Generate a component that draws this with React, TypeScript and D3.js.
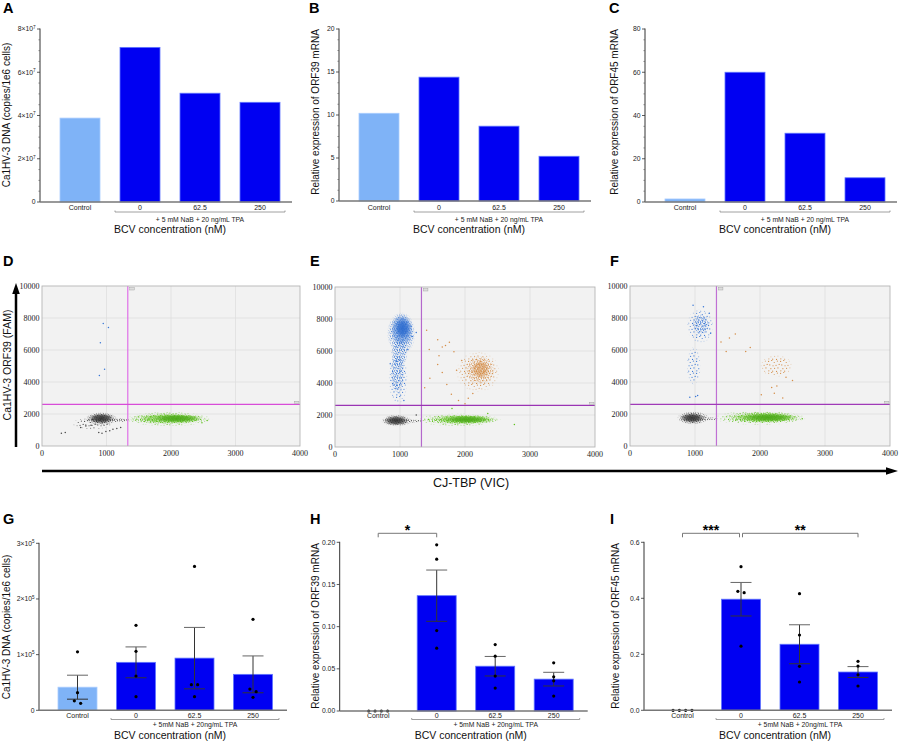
import * as d3 from "d3"

const sans = "'Liberation Sans', Arial, Helvetica, sans-serif"
const serif = "'Liberation Serif', 'Times New Roman', serif"

// treatment groups shared by every bar chart
const categories = ["Control", "0", "62.5", "250"]

// A–C: one pooled measurement per group
const dnaCopies = [3.88e7, 7.15e7, 5.03e7, 4.61e7]
const orf39Expression = [10.2, 14.4, 8.7, 5.2]
const orf45Expression = [1.4, 60.0, 31.8, 11.2]

const dnaTicks = [0, 2e7, 4e7, 6e7, 8e7]
const orf39Ticks = [0, 5, 10, 15, 20]
const orf45Ticks = [0, 20, 40, 60, 80]

// G–I: four replicates per group (bar = mean, whiskers = SEM)
const dnaReplicates = [
  [1.05e5, 0.316e5, 0.17e5, 0.125e5],
  [1.526e5, 1.06e5, 0.616e5, 0.244e5],
  [2.585e5, 0.46e5, 0.46e5, 0.244e5],
  [1.634e5, 0.382e5, 0.334e5, 0.233e5],
]
const orf39Replicates = [
  [0, 0, 0, 0],
  [0.197, 0.18, 0.0954, 0.0745],
  [0.0788, 0.065, 0.0414, 0.0272],
  [0.0571, 0.0405, 0.0358, 0.0177],
]
const orf45Replicates = [
  [0, 0, 0, 0],
  [0.513, 0.425, 0.42, 0.229],
  [0.4165, 0.269, 0.157, 0.101],
  [0.175, 0.158, 0.127, 0.0868],
]

const dnaRepTicks = [0, 1e5, 2e5, 3e5]
const orf39RepTicks = [0, 0.05, 0.1, 0.15, 0.2]
const orf45RepTicks = [0, 0.2, 0.4, 0.6]

const orf39Sig = [{ from: 0, to: 1, label: "*" }]
const orf45Sig = [
  { from: 0, to: 1, label: "***" },
  { from: 1, to: 3, label: "**" },
]

// D–F: ddPCR droplets, VIC (x) vs FAM (y)
const vicTicks = [0, 1000, 2000, 3000, 4000]
const famTicks = [0, 2000, 4000, 6000, 8000, 10000]
const thresholdVIC = 1330
const thresholdFAM = 2600

// droplet clouds: centre and half-extent in fluorescence units
const cloudsD = [
  { color: "gray", cx: 780, cy: 1400, rx: 320, ry: 380, level: "sparse" },
  { color: "gray", cx: 920, cy: 1700, rx: 250, ry: 420, level: "medium" },
  { color: "gray", cx: 920, cy: 1720, rx: 200, ry: 330, level: "core" },
  { color: "gray", cx: 1180, cy: 1620, rx: 180, ry: 130, level: "medium" },
  { color: "green", cx: 1960, cy: 1690, rx: 690, ry: 470, level: "sparse" },
  { color: "green", cx: 1950, cy: 1700, rx: 620, ry: 360, level: "medium" },
  { color: "green", cx: 2000, cy: 1710, rx: 500, ry: 300, level: "dense" },
  { color: "green", cx: 2080, cy: 1720, rx: 350, ry: 240, level: "core" },
]
const cloudsE = [
  { color: "blue", cx: 970, cy: 4300, rx: 150, ry: 1700, level: "sparse" },
  { color: "blue", cx: 960, cy: 4600, rx: 110, ry: 1300, level: "medium" },
  { color: "blue", cx: 990, cy: 5900, rx: 130, ry: 900, level: "medium" },
  { color: "blue", cx: 1020, cy: 7100, rx: 220, ry: 1350, level: "medium" },
  { color: "blue", cx: 1030, cy: 7300, rx: 170, ry: 1000, level: "dense" },
  { color: "blue", cx: 1040, cy: 7400, rx: 120, ry: 650, level: "core" },
  { color: "orange", cx: 2200, cy: 4700, rx: 340, ry: 1300, level: "sparse" },
  { color: "orange", cx: 2230, cy: 4800, rx: 230, ry: 900, level: "medium" },
  { color: "orange", cx: 2240, cy: 4850, rx: 130, ry: 550, level: "dense" },
  { color: "gray", cx: 950, cy: 1650, rx: 240, ry: 380, level: "medium" },
  { color: "gray", cx: 940, cy: 1650, rx: 190, ry: 300, level: "core" },
  { color: "gray", cx: 1190, cy: 1620, rx: 180, ry: 110, level: "medium" },
  { color: "green", cx: 1900, cy: 1700, rx: 660, ry: 420, level: "sparse" },
  { color: "green", cx: 1940, cy: 1710, rx: 590, ry: 320, level: "medium" },
  { color: "green", cx: 1990, cy: 1715, rx: 460, ry: 270, level: "dense" },
  { color: "green", cx: 2020, cy: 1720, rx: 340, ry: 220, level: "core" },
]
const cloudsF = [
  { color: "blue", cx: 1080, cy: 7500, rx: 210, ry: 1100, level: "sparse" },
  { color: "blue", cx: 1090, cy: 7600, rx: 130, ry: 650, level: "medium" },
  { color: "blue", cx: 980, cy: 5000, rx: 110, ry: 1200, level: "sparse" },
  { color: "orange", cx: 2250, cy: 5000, rx: 250, ry: 700, level: "sparse" },
  { color: "gray", cx: 970, cy: 1750, rx: 250, ry: 420, level: "medium" },
  { color: "gray", cx: 960, cy: 1750, rx: 190, ry: 320, level: "core" },
  { color: "gray", cx: 1210, cy: 1700, rx: 160, ry: 110, level: "medium" },
  { color: "green", cx: 2000, cy: 1760, rx: 720, ry: 470, level: "sparse" },
  { color: "green", cx: 2040, cy: 1770, rx: 630, ry: 360, level: "medium" },
  { color: "green", cx: 2080, cy: 1775, rx: 500, ry: 300, level: "dense" },
  { color: "green", cx: 2120, cy: 1780, rx: 390, ry: 250, level: "core" },
]

// isolated droplets outside the clouds: [VIC, FAM, colour]
const looseD = [
  [950, 7650, "blue"], [1030, 7400, "blue"], [905, 6450, "blue"], [970, 4800, "blue"], [890, 4400, "blue"],
  [300, 800, "gray"], [360, 840, "gray"], [600, 1150, "gray"], [680, 1250, "gray"], [760, 1300, "gray"],
  [880, 850, "gray"], [930, 800, "gray"], [990, 900, "gray"], [1050, 950, "gray"], [1100, 1050, "gray"],
  [1160, 1100, "gray"], [1220, 1150, "gray"], [2560, 1600, "green"], [2480, 1450, "green"],
]
const looseE = [
  [1410, 7300, "orange"], [1450, 6100, "orange"], [1580, 6700, "orange"], [1650, 6250, "orange"],
  [1700, 6350, "orange"], [1760, 6550, "orange"], [1830, 5950, "orange"], [1580, 5150, "orange"],
  [1650, 4650, "orange"], [1720, 3900, "orange"], [1790, 3300, "orange"], [1900, 2900, "orange"],
  [2000, 2700, "orange"], [2050, 3050, "orange"], [2120, 3350, "orange"], [1380, 3700, "orange"],
  [1460, 4300, "orange"], [1600, 5700, "orange"], [1870, 4800, "orange"], [1950, 5400, "orange"],
  [1250, 7150, "blue"], [1190, 6900, "blue"], [1170, 7550, "blue"], [850, 5200, "blue"],
  [1120, 6100, "blue"], [1060, 2900, "blue"], [2760, 1400, "green"], [2350, 2100, "green"],
  [1800, 2400, "green"], [1250, 2000, "gray"],
]
const looseF = [
  [1400, 6500, "orange"], [1530, 6750, "orange"], [1620, 7000, "orange"], [1480, 5900, "orange"],
  [1780, 5900, "orange"], [1850, 6150, "orange"], [2020, 3200, "orange"], [2180, 3650, "orange"],
  [2220, 3300, "orange"], [2350, 3000, "orange"], [2260, 3750, "orange"], [2500, 4100, "orange"],
  [2400, 4300, "orange"], [970, 8800, "blue"], [1130, 8700, "blue"], [920, 3050, "blue"],
  [1010, 3100, "blue"], [1040, 3150, "blue"], [1240, 7050, "blue"], [1220, 8300, "blue"],
  [2650, 1700, "green"],
]

const dropletColors = {
  gray: { dot: "#484848", core: "#2e2e2e" },
  green: { dot: "#5fc21e", core: "#4aa817" },
  blue: { dot: "#3a78d6", core: "#2d6ccf" },
  orange: { dot: "#d48d48", core: "#c87c36" },
}
// texture tile: irregular dot layout, scaled per density level
const dotTile = { sparse: 12, medium: 7, dense: 4.5 }
const dotRadius = { sparse: 0.6, medium: 0.55, dense: 0.55 }
const tileDots = [
  [0.05, 0.12], [0.31, 0.04], [0.52, 0.21], [0.78, 0.09], [0.93, 0.37], [0.15, 0.41], [0.42, 0.48],
  [0.67, 0.44], [0.24, 0.72], [0.55, 0.69], [0.83, 0.66], [0.07, 0.9], [0.39, 0.93], [0.71, 0.95],
]

const topLayout = {
  bandStart: 10, step: 60, axisLen: 252, catY: 210, bracketY: 212, bracketFrom: 75, bracketTo: 245,
  bracketTextY: 221.5, titleY: 233, bcvOffset: 130, minor: true, text: "+ 5 mM NaB + 20 ng/mL TPA",
}
const bottomLayout = {
  bandStart: 9.25, step: 58.5, axisLen: 248, catY: 717.7, bracketY: 719.5, bracketFrom: 72, bracketTo: 240,
  bracketTextY: 726.5, titleY: 739, bcvOffset: 131, minor: false, text: "+ 5mM NaB + 20ng/mL TPA",
}

function swarm(vals, y, cx) {
  const sorted = vals.map((v) => ({ v, py: y(v) })).sort((a, b) => a.py - b.py)
  const groups = []
  sorted.forEach((p) => {
    const g = groups[groups.length - 1]
    if (g && p.py - g[g.length - 1].py < 3.5) g.push(p)
    else groups.push([p])
  })
  return groups.flatMap((g) => g.map((p, k) => ({ x: cx + (k - (g.length - 1) / 2) * 6.3, y: p.py })))
}

function BarPanel(p) {
  const { axisX, yTop, yBottom, ticks, layout } = p
  const y = d3.scaleLinear().domain([0, ticks[ticks.length - 1]]).range([yBottom, yTop])
  const x = d3
    .scaleBand()
    .domain(categories)
    .range([axisX + layout.bandStart, axisX + layout.bandStart + 4 * layout.step])
    .paddingInner(1 / 3)
    .paddingOuter(1 / 6)
  const bw = x.bandwidth()
  const cx = (i) => x(categories[i]) + bw / 2

  const stats = p.reps
    ? p.reps.map((r) => ({ mean: d3.mean(r), sem: d3.deviation(r) / Math.sqrt(r.length) }))
    : p.values.map((v) => ({ mean: v, sem: 0 }))

  const minor = layout.minor
    ? d3.range(ticks.length - 1).flatMap((i) => [1, 2, 3].map((k) => ticks[i] + ((ticks[i + 1] - ticks[i]) * k) / 4))
    : []

  const label = (v) => {
    if (p.exp) {
      if (v === 0) return "0"
      return (
        <>
          {Math.round(v / 10 ** p.exp)}×10
          <tspan dy={-2.6} fontSize={4.6}>{p.exp}</tspan>
        </>
      )
    }
    return d3.format(`.${p.decimals}f`)(v)
  }

  const b0 = axisX + layout.bracketFrom
  const b1 = axisX + layout.bracketTo
  const sig = p.sig || []

  return (
    <g fontFamily={sans}>
      <text x={p.letterX} y={p.letterY} fontSize={14.5} fontWeight="bold">{p.letter}</text>

      {/* bars */}
      {stats.map((s, i) =>
        s.mean > 0 ? (
          <rect
            key={i}
            x={x(categories[i])}
            y={y(s.mean)}
            width={bw}
            height={yBottom - y(s.mean)}
            fill={i === 0 ? "#7fb3f7" : "#0000f2"}
            stroke={i === 0 ? "#a9ccff" : "#5f74ff"}
            strokeWidth={0.8}
          />
        ) : null
      )}

      {/* SEM whiskers */}
      {p.reps &&
        stats.map((s, i) =>
          s.sem > 0 ? (
            <g key={i} stroke="#333" strokeWidth={1}>
              <line x1={cx(i)} x2={cx(i)} y1={y(s.mean - s.sem)} y2={y(s.mean + s.sem)} />
              <line x1={cx(i) - 10.5} x2={cx(i) + 10.5} y1={y(s.mean + s.sem)} y2={y(s.mean + s.sem)} stroke="#666" />
              <line x1={cx(i) - 10.5} x2={cx(i) + 10.5} y1={y(s.mean - s.sem)} y2={y(s.mean - s.sem)} />
            </g>
          ) : null
        )}

      {/* replicate points */}
      {p.reps &&
        p.reps.map((r, i) =>
          swarm(r, y, cx(i)).map((pt, k) => <circle key={`${i}-${k}`} cx={pt.x} cy={pt.y} r={1.6} fill="#000" />)
        )}

      {/* axes */}
      <line x1={axisX} x2={axisX} y1={yTop - 0.5} y2={yBottom} stroke="#333" strokeWidth={1} />
      <line x1={axisX} x2={axisX + layout.axisLen} y1={yBottom} y2={yBottom} stroke="#777" strokeWidth={1.5} />
      {ticks.map((t) => (
        <g key={t}>
          <line x1={axisX - 3} x2={axisX} y1={y(t)} y2={y(t)} stroke="#333" strokeWidth={0.8} />
          <text x={axisX - 4.5} y={y(t) + 2.4} fontSize={6.8} textAnchor="end" fill="#222">{label(t)}</text>
        </g>
      ))}
      {minor.map((t) => (
        <line key={t} x1={axisX - 1.6} x2={axisX} y1={y(t)} y2={y(t)} stroke="#555" strokeWidth={0.6} />
      ))}

      {categories.map((c, i) => (
        <text key={c} x={cx(i)} y={layout.catY} fontSize={7} textAnchor="middle" fill="#222">{c}</text>
      ))}

      <path
        d={`M${b0},${layout.bracketY - 1.5}V${layout.bracketY}H${b1}V${layout.bracketY - 1.5}`}
        fill="none"
        stroke="#888"
        strokeWidth={0.8}
      />
      <text x={(b0 + b1) / 2} y={layout.bracketTextY} fontSize={6.8} textAnchor="middle" fill="#222">{layout.text}</text>
      <text x={axisX + layout.bcvOffset} y={layout.titleY} fontSize={10.5} textAnchor="middle" fill="#111">
        BCV concentration (nM)
      </text>

      <text
        transform={`translate(${p.titleX},${p.titleCy}) rotate(-90)`}
        fontSize={10}
        textAnchor="middle"
        fill="#111"
      >
        {p.title}
      </text>

      {/* significance brackets */}
      {sig.map((s) => {
        const xa = cx(s.from) + (sig.some((o) => o.to === s.from) ? 1.5 : 0)
        const xb = cx(s.to) - (sig.some((o) => o.from === s.to) ? 1.5 : 0)
        const by = yTop - 9
        return (
          <g key={s.label}>
            <path d={`M${xa},${by + 4}V${by}H${xb}V${by + 4}`} fill="none" stroke="#777" strokeWidth={1} />
            <text x={(xa + xb) / 2} y={by + 1.5} fontSize={14} fontWeight="bold" textAnchor="middle">{s.label}</text>
          </g>
        )
      })}
    </g>
  )
}

function DropletPanel(p) {
  const { x0, x1, y0, y1 } = p
  const x = d3.scaleLinear().domain([0, 4000]).range([x0, x1])
  const y = d3.scaleLinear().domain([0, 10000]).range([y1, y0])
  const clipId = `clip-${p.letter}`

  return (
    <g>
      <text x={p.letterX} y={266} fontSize={14.5} fontWeight="bold" fontFamily={sans}>{p.letter}</text>
      <clipPath id={clipId}>
        <rect x={x0} y={y0} width={x1 - x0} height={y1 - y0} />
      </clipPath>
      <rect x={x0} y={y0} width={x1 - x0} height={y1 - y0} fill="#f2f2f2" />
      {vicTicks.slice(1, -1).map((t) => (
        <line key={t} x1={x(t)} x2={x(t)} y1={y0} y2={y1} stroke="#dcdcdc" strokeWidth={0.7} />
      ))}
      {famTicks.slice(1, -1).map((t) => (
        <line key={t} x1={x0} x2={x1} y1={y(t)} y2={y(t)} stroke="#dcdcdc" strokeWidth={0.7} />
      ))}

      <g clipPath={`url(#${clipId})`}>
        {p.clouds.map((c, i) => {
          const ecx = x(c.cx)
          const ecy = y(c.cy)
          const rx = x(c.cx + c.rx) - ecx
          const ry = ecy - y(c.cy + c.ry)
          if (c.level === "core") {
            return <ellipse key={i} cx={ecx} cy={ecy} rx={rx} ry={ry} fill={`url(#core-${c.color})`} />
          }
          return (
            <ellipse
              key={i}
              cx={ecx}
              cy={ecy}
              rx={rx}
              ry={ry}
              fill={`url(#dots-${c.color}-${c.level})`}
              mask="url(#fade)"
            />
          )
        })}
        {p.loose.map((d, i) => (
          <circle key={i} cx={x(d[0])} cy={y(d[1])} r={0.75} fill={dropletColors[d[2]].dot} />
        ))}
      </g>

      {/* thresholds */}
      <line x1={x(thresholdVIC)} x2={x(thresholdVIC)} y1={y0} y2={y1} stroke={p.vColor} strokeWidth={1.2} />
      <line x1={x0} x2={x1} y1={y(thresholdFAM)} y2={y(thresholdFAM)} stroke={p.hColor} strokeWidth={1.3} />
      <rect x={x(thresholdVIC) + 2} y={y0 + 1.5} width={4.5} height={2.5} fill="#ddd" stroke="#999" strokeWidth={0.4} />
      <rect x={x1 - 5.5} y={y(thresholdFAM) - 3.2} width={4.5} height={2.5} fill="#ddd" stroke="#999" strokeWidth={0.4} />

      <rect x={x0} y={y0} width={x1 - x0} height={y1 - y0} fill="none" stroke="#b5b5b5" strokeWidth={0.9} />

      {famTicks.map((t) => (
        <text key={t} x={x0 - 2.5} y={y(t) + 2.8} fontSize={8} fontFamily={serif} textAnchor="end" fill="#222">
          {t}
        </text>
      ))}
      {vicTicks.map((t) => (
        <text key={t} x={x(t)} y={y1 + 9.5} fontSize={8} fontFamily={serif} textAnchor="middle" fill="#222">
          {t}
        </text>
      ))}
    </g>
  )
}

export default function App() {
  const levels = Object.keys(dotTile)
  return (
    <svg width={900} height={742} style={{ position: "absolute", left: 0, top: 0, background: "#fff" }}>
      <defs>
        {Object.entries(dropletColors).flatMap(([name, c]) =>
          levels.map((lv) => (
            <pattern key={`${name}-${lv}`} id={`dots-${name}-${lv}`} patternUnits="userSpaceOnUse" width={dotTile[lv]} height={dotTile[lv]}>
              {tileDots.map((d, k) => (
                <circle key={k} cx={d[0] * dotTile[lv]} cy={d[1] * dotTile[lv]} r={dotRadius[lv]} fill={c.dot} />
              ))}
            </pattern>
          ))
        )}
        {Object.entries(dropletColors).map(([name, c]) => (
          <radialGradient key={name} id={`core-${name}`}>
            <stop offset="0" stopColor={c.core} stopOpacity={0.95} />
            <stop offset="0.55" stopColor={c.core} stopOpacity={0.75} />
            <stop offset="1" stopColor={c.core} stopOpacity={0} />
          </radialGradient>
        ))}
        <radialGradient id="fadeGrad">
          <stop offset="0" stopColor="#fff" />
          <stop offset="0.7" stopColor="#fff" />
          <stop offset="1" stopColor="#000" />
        </radialGradient>
        <mask id="fade" maskContentUnits="objectBoundingBox">
          <rect x={0} y={0} width={1} height={1} fill="url(#fadeGrad)" />
        </mask>
      </defs>

      <BarPanel letter="A" letterX={3} letterY={13} axisX={40} yTop={29} yBottom={202} ticks={dnaTicks} exp={7}
        values={dnaCopies} layout={topLayout} title="Ca1HV-3 DNA (copies/1e6 cells)" titleX={10} titleCy={115} />
      <BarPanel letter="B" letterX={309} letterY={13} axisX={339} yTop={29} yBottom={201} ticks={orf39Ticks} decimals={0}
        values={orf39Expression} layout={topLayout} title="Relative expression of ORF39 mRNA" titleX={319} titleCy={112} />
      <BarPanel letter="C" letterX={609} letterY={13} axisX={645} yTop={29} yBottom={202} ticks={orf45Ticks} decimals={0}
        values={orf45Expression} layout={topLayout} title="Relative expression of ORF45 mRNA" titleX={618} titleCy={112} />

      <DropletPanel letter="D" letterX={3} x0={42} x1={300} y0={286} y1={446} clouds={cloudsD} loose={looseD}
        vColor="#e070e8" hColor="#d84cd8" />
      <DropletPanel letter="E" letterX={310} x0={335} x1={595} y0={287} y1={447} clouds={cloudsE} loose={looseE}
        vColor="#b468cc" hColor="#9a34b4" />
      <DropletPanel letter="F" letterX={610} x0={630} x1={890} y0={286} y1={446} clouds={cloudsF} loose={looseF}
        vColor="#c070d4" hColor="#a03ab8" />

      {/* shared droplet axes */}
      <line x1={16} x2={16} y1={447} y2={292} stroke="#000" strokeWidth={2.5} />
      <polygon points="16,283 12.2,294 19.8,294" fill="#000" />
      <text transform="translate(11,365) rotate(-90)" fontSize={10.5} fontFamily={sans} textAnchor="middle" fill="#111">
        Ca1HV-3 ORF39 (FAM)
      </text>
      <line x1={42} x2={888} y1={471} y2={471} stroke="#000" strokeWidth={2.5} />
      <polygon points="898,471 886,467.2 886,474.8" fill="#000" />
      <text x={471} y={487} fontSize={12.5} fontFamily={sans} textAnchor="middle" fill="#111">CJ-TBP (VIC)</text>

      <BarPanel letter="G" letterX={3} letterY={524} axisX={39} yTop={543.3} yBottom={710.3} ticks={dnaRepTicks} exp={5}
        reps={dnaReplicates} layout={bottomLayout} title="Ca1HV-3 DNA (copies/1e6 cells)" titleX={10} titleCy={627} />
      <BarPanel letter="H" letterX={310} letterY={524} axisX={339.7} yTop={542.3} yBottom={711} ticks={orf39RepTicks}
        decimals={2} reps={orf39Replicates} sig={orf39Sig} layout={bottomLayout}
        title="Relative expression of ORF39 mRNA" titleX={319} titleCy={626} />
      <BarPanel letter="I" letterX={610} letterY={524} axisX={644} yTop={542.3} yBottom={710.3} ticks={orf45RepTicks}
        decimals={1} reps={orf45Replicates} sig={orf45Sig} layout={bottomLayout}
        title="Relative expression of ORF45 mRNA" titleX={619} titleCy={626} />
    </svg>
  )
}
